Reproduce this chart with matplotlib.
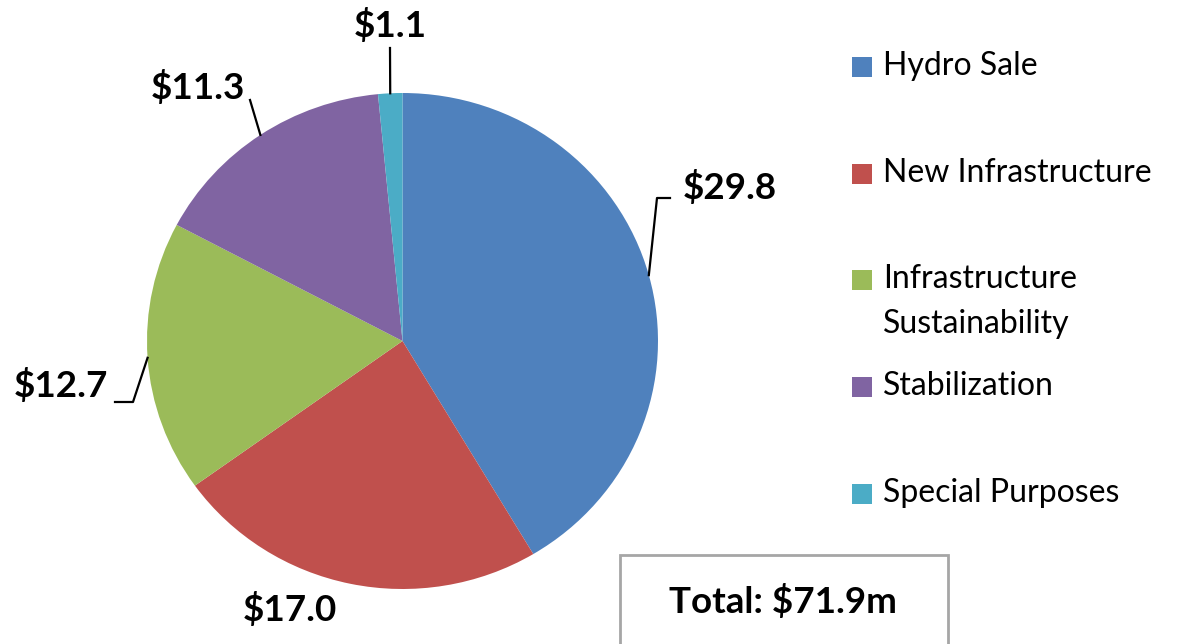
import numpy as np
import matplotlib
matplotlib.use('Agg')
import matplotlib.pyplot as plt
from matplotlib.patches import Rectangle
from matplotlib.lines import Line2D

W, H = 1182, 644

categories = ["Hydro Sale", "New Infrastructure", "Infrastructure\nSustainability",
              "Stabilization", "Special Purposes"]
values = [29.8, 17.0, 12.7, 11.3, 1.1]
value_labels = ["$29.8", "$17.0", "$12.7", "$11.3", "$1.1"]
total_label = "Total: $71.9m"
colors = ["#4F81BD", "#C0504D", "#9BBB59", "#8064A2", "#4BACC6"]

plt.rcParams['font.family'] = ['Lato', 'DejaVu Sans']


def px(x, y):
    # pixel coords (top-left origin) -> figure fraction
    return x / W, 1 - y / H


fig = plt.figure(figsize=(W / 100, H / 100), dpi=100)

# pie axes placed in pixels: x 147..658, y 93..589
ax = fig.add_axes([147 / W, (H - 589) / H, 511 / W, 496 / H])
wedges, _ = ax.pie(values, colors=colors, startangle=90, counterclock=False,
                   radius=1, wedgeprops=dict(linewidth=0))
ax.set_aspect('auto')
ax.set_xlim(-1, 1)
ax.set_ylim(-1, 1)
ax.axis('off')

# label text positions (pixel), alignment, elbow (pixel) or None
label_pos = [
    ((683, 187), 'left', [(657, 198), (670, 198)]),
    ((290, 609), 'center', None),
    ((108, 385), 'right', [(133, 402), (115, 402)]),
    ((198, 87), 'center', [(250, 100)]),
    ((390, 26), 'center', [(390, 48)]),
]

for w, lab, (pos, ha, elbow) in zip(wedges, value_labels, label_pos):
    mid = np.deg2rad((w.theta1 + w.theta2) / 2)
    fx, fy = px(*pos)
    fig.text(fx, fy, lab, ha=ha, va='center', fontsize=26.5, fontweight='bold',
             color='black')
    if elbow is None:
        continue
    # edge point of wedge in display -> figure fraction
    dx, dy = ax.transData.transform((np.cos(mid), np.sin(mid)))
    pts = [(dx / W, dy / H)] + [px(*p) for p in elbow]
    xs = [p[0] for p in pts]
    ys = [p[1] for p in pts]
    fig.add_artist(Line2D(xs, ys, color='black', linewidth=1.6,
                          transform=fig.transFigure))

# legend drawn by hand to keep the uneven spacing (first-line baselines)
leg_base = [75, 182, 288, 395, 502]
for lab, c, y in zip(categories, colors, leg_base):
    x0, y0 = px(852, y + 2)
    fig.add_artist(Rectangle((x0, y0), 20 / W, 20 / H, facecolor=c,
                             edgecolor='none', transform=fig.transFigure))
    lines = lab.split('\n')
    for i, line in enumerate(lines):
        tx, ty = px(883, y + 45 * i)
        fig.text(tx, ty, line, ha='left', va='baseline', fontsize=23,
                 color='black')

# total box
bx, by = px(620, 650)
fig.add_artist(Rectangle((bx, by), (948 - 620) / W, (650 - 555) / H,
                         facecolor='white', edgecolor='#A6A6A6', linewidth=2,
                         transform=fig.transFigure))
tx, ty = px(783, 602)
fig.text(tx, ty, total_label, ha='center', va='center', fontsize=26.5,
         fontweight='bold', color='black')

fig.savefig('out.png', dpi=100)
